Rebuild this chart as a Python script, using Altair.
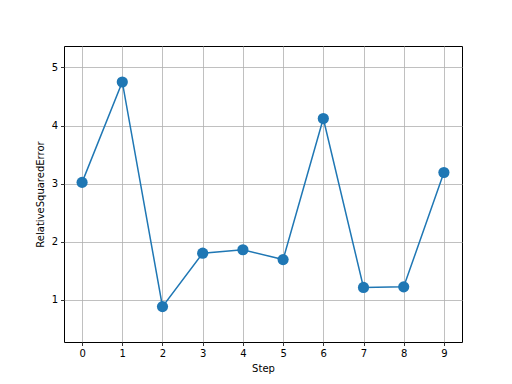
import altair as alt
import pandas as pd

steps = [0, 1, 2, 3, 4, 5, 6, 7, 8, 9]
errors = [3.02, 4.75, 0.88, 1.80, 1.86, 1.69, 4.12, 1.21, 1.22, 3.19]
x_ticks = [0, 1, 2, 3, 4, 5, 6, 7, 8, 9]
y_ticks = [1, 2, 3, 4, 5]

df = pd.DataFrame({"Step": steps, "RelativeSquaredError": errors})

axis_common = dict(
    grid=True, gridColor="#b0b0b0", gridWidth=0.8,
    domain=False, tickColor="black", tickSize=3.5, tickWidth=0.8,
    labelColor="black", labelFont="DejaVu Sans", labelFontSize=10,
    titleFont="DejaVu Sans", titleFontSize=10, titleFontWeight="normal",
    titleColor="black", labelPadding=3,
)

x = alt.X("Step:Q",
          scale=alt.Scale(domain=[-0.45, 9.45], nice=False, zero=False),
          axis=alt.Axis(values=x_ticks, format="d", title="Step", titlePadding=5, **axis_common))
y = alt.Y("RelativeSquaredError:Q",
          scale=alt.Scale(domain=[0.27, 5.37], nice=False, zero=False),
          axis=alt.Axis(values=y_ticks, format="d", title="RelativeSquaredError", titlePadding=6, **axis_common))

base = alt.Chart(df).encode(x=x, y=y)
line = base.mark_line(color="#1f77b4", strokeWidth=1.5)
pts = base.mark_circle(color="#1f77b4", size=125, opacity=1)

chart = (line + pts).properties(
    width=398, height=296,
    autosize=alt.AutoSizeParams(type="none"),
    padding={"left": 64, "top": 46, "right": 50, "bottom": 42},
    background="white",
).configure_view(stroke="black", strokeWidth=1)

chart.save("out.html", embed_options={"renderer": "svg", "actions": False})
